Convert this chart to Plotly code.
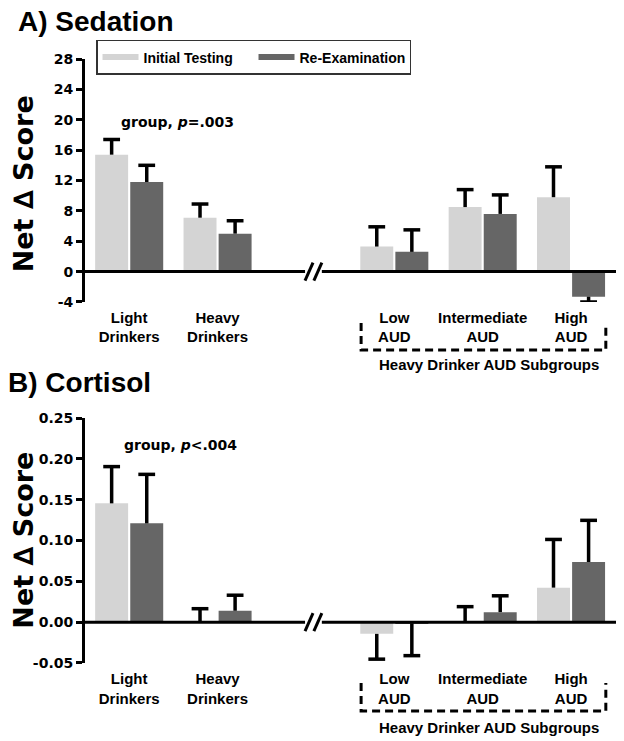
import plotly.graph_objects as go

# ---------------- data ----------------
group_labels = ["Light<br>Drinkers", "Heavy<br>Drinkers", "Low<br>AUD",
                "Intermediate<br>AUD", "High<br>AUD"]
group_pos = [0, 1, 3, 4, 5]

sed_initial = [15.4, 7.1, 3.3, 8.5, 9.8]
sed_initial_err = [2.0, 1.8, 2.6, 2.3, 4.0]
sed_reexam = [11.8, 5.0, 2.6, 7.6, -3.3]
sed_reexam_err = [2.2, 1.7, 2.9, 2.5, 0.7]

cort_initial = [0.1455, 0.0, -0.0143, 0.0, 0.0423]
cort_initial_err = [0.045, 0.0165, 0.031, 0.019, 0.059]
cort_reexam = [0.121, 0.014, -0.0015, 0.0123, 0.0737]
cort_reexam_err = [0.060, 0.019, 0.0395, 0.020, 0.051]

sed_ticks = [-4, 0, 4, 8, 12, 16, 20, 24, 28]
sed_tick_text = ["-4", "0", "4", "8", "12", "16", "20", "24", "28"]
cort_ticks = [-0.05, 0.0, 0.05, 0.10, 0.15, 0.20, 0.25]
cort_tick_text = ["-0.05", "0.00", "0.05", "0.10", "0.15", "0.20", "0.25"]

series_names = ["Initial Testing", "Re-Examination"]
# ---------------- style ----------------
LIGHT = "#d4d4d4"
DARK = "#666666"
BAR_W = 0.373
OFF_I = -0.385
OFF_R = 0.012
CAP = 0.095
ARIAL = "Arial, Liberation Sans, sans-serif"
DEJA = "DejaVu Sans, sans-serif"

fig = go.Figure()


def add_bars(vals, offset, color, xa, ya):
    fig.add_trace(go.Bar(x=group_pos, y=vals, width=BAR_W, offset=offset,
                         marker=dict(color=color, line=dict(width=0)),
                         showlegend=False, xaxis=xa, yaxis=ya,
                         hoverinfo="y"))


def add_errs(vals, errs, offset, xa, ya):
    xs, ys = [], []
    for p, v, e in zip(group_pos, vals, errs):
        xc = p + offset + BAR_W / 2
        end = v + e if v >= 0 else v - e
        xs += [xc, xc, None, xc - CAP, xc + CAP, None]
        ys += [v, end, None, end, end, None]
    fig.add_trace(go.Scatter(x=xs, y=ys, mode="lines",
                             line=dict(color="black", width=3.5),
                             showlegend=False, hoverinfo="skip",
                             xaxis=xa, yaxis=ya))


# panel A
add_bars(sed_initial, OFF_I, LIGHT, "x", "y")
add_bars(sed_reexam, OFF_R, DARK, "x", "y")
add_errs(sed_initial, sed_initial_err, OFF_I, "x", "y")
add_errs(sed_reexam, sed_reexam_err, OFF_R, "x", "y")
# panel B
add_bars(cort_initial, OFF_I, LIGHT, "x2", "y2")
add_bars(cort_reexam, OFF_R, DARK, "x2", "y2")
add_errs(cort_initial, cort_initial_err, OFF_I, "x2", "y2")
add_errs(cort_reexam, cort_reexam_err, OFF_R, "x2", "y2")

# legend entries
for name, col in zip(series_names, [LIGHT, DARK]):
    fig.add_trace(go.Scatter(x=[None], y=[None], mode="lines", name=name,
                             line=dict(color=col, width=6),
                             xaxis="x", yaxis="y"))

XR = [-0.5, 5.52]
xcommon = dict(range=XR, showgrid=False, zeroline=False, showline=False,
               tickmode="array", tickvals=group_pos, ticktext=group_labels,
               ticks="outside", ticklen=2, tickcolor="rgba(0,0,0,0)",
               tickfont=dict(family=ARIAL, size=15, color="black", weight="bold"),
               fixedrange=True)
ycommon = dict(showgrid=False, zeroline=False, showline=True, linewidth=3,
               linecolor="black", ticks="outside", ticklen=6, tickwidth=3,
               tickcolor="black", tickmode="array",
               tickfont=dict(family=DEJA, size=14, color="black", weight="bold"))

fig.update_layout(
    width=616, height=733,
    margin=dict(l=77, r=7, t=51, b=78, autoexpand=False),
    paper_bgcolor="white", plot_bgcolor="white",
    barmode="overlay",
    xaxis=dict(domain=[0, 1], anchor="y", **xcommon),
    yaxis=dict(domain=[0.5977, 1.0], anchor="x", range=[-4, 28],
               tickvals=sed_ticks, ticktext=sed_tick_text, **ycommon),
    xaxis2=dict(domain=[0, 1], anchor="y2", **xcommon),
    yaxis2=dict(domain=[0, 0.4056], anchor="x2", range=[-0.05, 0.25],
                tickvals=cort_ticks, ticktext=cort_tick_text, **ycommon),
    legend=dict(orientation="h", x=0.0207, y=1.0315, xanchor="left",
                yanchor="top", bordercolor="#333333", borderwidth=1.5,
                font=dict(family=ARIAL, size=14, color="black", weight="bold"),
                itemwidth=36, entrywidth=105, tracegroupgap=0),
    showlegend=True,
)

shapes = []
for ya in ["y", "y2"]:
    xa = "x" if ya == "y" else "x2"
    # broken zero line
    shapes.append(dict(type="line", xref=xa, yref=ya, x0=-0.5, x1=1.99, y0=0, y1=0,
                       line=dict(color="black", width=3)))
    shapes.append(dict(type="line", xref=xa, yref=ya, x0=2.18, x1=5.52, y0=0, y1=0,
                       line=dict(color="black", width=3)))
    for xc in [2.035, 2.135]:
        shapes.append(dict(type="line", xref=xa, yref=ya,
                           xsizemode="pixel", xanchor=xc, x0=-4, x1=4,
                           ysizemode="pixel", yanchor=0, y0=-9, y1=9,
                           line=dict(color="black", width=3)))

# dashed brackets around AUD subgroup labels
for ytop, ybot in [(0.5629, 0.5182), (-0.0331, -0.0795)]:
    shapes.append(dict(type="path", xref="paper", yref="paper",
                       path=f"M 0.519,{ytop} L 0.519,{ybot} L 0.979,{ybot} L 0.979,{ytop}",
                       line=dict(color="black", width=3, dash="8px,5px")))
fig.update_layout(shapes=shapes)

title_font = dict(family=ARIAL, size=28, color="black", weight="bold")
annotations = [
    dict(text="A) Sedation", x=-0.128, y=1.0621, xref="paper", yref="paper",
         xanchor="left", yanchor="middle", showarrow=False, borderpad=0,
         font=title_font),
    dict(text="B) Cortisol", x=-0.147, y=0.465, xref="paper", yref="paper",
         xanchor="left", yanchor="middle", showarrow=False, borderpad=0,
         font=title_font),
    dict(text="group, <i>p</i>=.003", x=0.541, y=19.7, xref="x", yref="y",
         xanchor="center", yanchor="middle", showarrow=False,
         font=dict(family=DEJA, size=14, color="black", weight="bold")),
    dict(text="group, <i>p</i>&lt;.004", x=0.575, y=0.217, xref="x2", yref="y2",
         xanchor="center", yanchor="middle", showarrow=False,
         font=dict(family=DEJA, size=14, color="black", weight="bold")),
    dict(text="Heavy Drinker AUD Subgroups", x=0.760, y=0.4934, xref="paper",
         yref="paper", xanchor="center", yanchor="middle", showarrow=False,
         font=dict(family=ARIAL, size=15, color="black", weight="bold")),
    dict(text="Heavy Drinker AUD Subgroups", x=0.760, y=-0.106, xref="paper",
         yref="paper", xanchor="center", yanchor="middle", showarrow=False,
         font=dict(family=ARIAL, size=15, color="black", weight="bold")),
    dict(text="Net \u2206 Score", x=-0.116, y=0.793, xref="paper", yref="paper",
         xanchor="center", yanchor="middle",
         textangle=-90, showarrow=False,
         font=dict(family=DEJA, size=27, color="black", weight="bold")),
    dict(text="Net \u2206 Score", x=-0.116, y=0.203, xref="paper", yref="paper",
         xanchor="center", yanchor="middle",
         textangle=-90, showarrow=False,
         font=dict(family=DEJA, size=27, color="black", weight="bold")),
]
fig.update_layout(annotations=annotations)

fig.write_html("out.html")
